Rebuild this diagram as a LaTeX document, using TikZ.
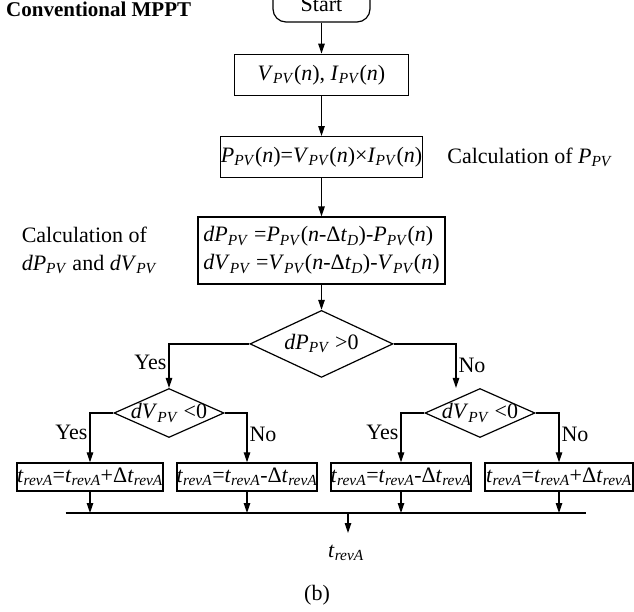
\documentclass[tikz,border=0pt]{standalone}
\usepackage{fontspec}
\setmainfont{Liberation Serif}
\usetikzlibrary{shapes.geometric,arrows.meta,positioning,calc}
\newcommand{\pvar}[2]{\textit{#1}\textsubscript{\textit{#2}}}

\begin{document}
\begin{tikzpicture}[
    x=1pt, y=1pt,
    font=\fontsize{22}{28}\selectfont,
    startBox/.style={
        rectangle, rounded corners=13pt, draw=black, line width=1.2pt,
        minimum width=97pt, minimum height=35pt, inner sep=0pt
    },
    procBox/.style={
        rectangle, draw=black, line width=1.4pt, minimum height=41pt, inner sep=0pt
    },
    decisionBox/.style={
        diamond, draw=black, line width=1.2pt, inner sep=0pt, aspect=2.2
    },
    resultBox/.style={
        rectangle, draw=black, line width=1.4pt, minimum height=28pt, inner sep=0pt
    },
    flow/.style={
        -{Triangle[length=10pt, width=6.5pt]}, line width=1.2pt, draw=black
    },
    branchTxt/.style={inner sep=2pt},
    noteTxt/.style={inner sep=0pt}
]
\useasboundingbox (0,0) rectangle (634,-611);
\clip (0,0) rectangle (634,-611);

% Title
\node[noteTxt, font=\fontsize{21}{28}\selectfont\bfseries, anchor=base west] (title) at (6,-16) {Conventional MPPT};

% Main column
\node[startBox] (start) at (321.5,-4.5) {Start};

\node[procBox, minimum width=174pt, below=31pt of start] (meas) {
    \pvar{V}{PV}(\textit{n}), \pvar{I}{PV}(\textit{n})
};

\node[procBox, minimum width=202pt, below=40pt of meas] (power) {
    \pvar{P}{PV}(\textit{n})=\pvar{V}{PV}(\textit{n})×\pvar{I}{PV}(\textit{n})
};

\node[procBox, minimum width=247pt, minimum height=67pt, below=38pt of power, align=left] (diff) {
    \pvar{dP}{PV} =\pvar{P}{PV}(\textit{n}-Δ\pvar{t}{D})-\pvar{P}{PV}(\textit{n})\\
    \pvar{dV}{PV} =\pvar{V}{PV}(\textit{n}-Δ\pvar{t}{D})-\pvar{V}{PV}(\textit{n})
};

\node[decisionBox, minimum width=143pt, minimum height=67pt, below=25pt of diff] (dpCheck) {
    \makebox[0pt]{\pvar{dP}{PV} >0}
};

% Side notes
\node[noteTxt, right=24pt of power] (powerNote) {Calculation of \pvar{P}{PV}};
\node[noteTxt, left=40pt of diff, align=left] (diffNote) {
    Calculation of\\
    \pvar{dP}{PV} and \pvar{dV}{PV}
};

% Second level checks
\node[decisionBox, minimum width=110pt, minimum height=49pt] (dvLeft) at (169,-413) {
    \makebox[0pt]{\pvar{dV}{PV} <0}
};
\node[decisionBox, minimum width=110pt, minimum height=49pt] (dvRight) at (480,-413) {
    \makebox[0pt]{\pvar{dV}{PV} <0}
};

% Results
\node[resultBox, minimum width=146pt] (incA) at (90,-477) {
    \makebox[0pt]{\pvar{t}{revA}=\pvar{t}{revA}+Δ\pvar{t}{revA}}
};
\node[resultBox, minimum width=140pt] (decA) at (247,-477) {
    \makebox[0pt]{\pvar{t}{revA}=\pvar{t}{revA}-Δ\pvar{t}{revA}}
};
\node[resultBox, minimum width=140pt] (decB) at (401,-477) {
    \makebox[0pt]{\pvar{t}{revA}=\pvar{t}{revA}-Δ\pvar{t}{revA}}
};
\node[resultBox, minimum width=148pt] (incB) at (559,-477) {
    \makebox[0pt]{\pvar{t}{revA}=\pvar{t}{revA}+Δ\pvar{t}{revA}}
};

% Output
\coordinate (busL) at (65.5,-513);
\coordinate (busR) at (585.5,-513);
\coordinate (busOut) at (348,-513);
\coordinate (outTip) at (348,-533);
\node[noteTxt, anchor=base] (tout) at (346,-557) {\pvar{t}{revA}};
\node (figTag) at (317,-595) {(b)};

% Flows
\draw[flow] (start) -- (meas);
\draw[flow] (meas) -- (power);
\draw[flow] (power) -- (diff);
\draw[flow] (diff) -- (dpCheck);

\coordinate (noTip) at ($(dvRight.north)+(-24,0)$);
\draw[flow] (dpCheck.west) -| node[branchTxt, pos=0.715, left] {Yes} (dvLeft.north);
\draw[flow] (dpCheck.east) -| node[branchTxt, pos=0.745, right] {No} (noTip);

\draw[flow] (dvLeft.west) -| node[branchTxt, pos=0.7, left] {Yes} (incA.north);
\draw[flow] (dvLeft.east) -| node[branchTxt, pos=0.72, right] {No} (decA.north);
\draw[flow] (dvRight.west) -| node[branchTxt, pos=0.7, left] {Yes} (decB.north);
\draw[flow] (dvRight.east) -| node[branchTxt, pos=0.72, right] {No} (incB.north);

\draw[line width=1.2pt] (busL) -- (busR);
\foreach \r in {incA,decA,decB,incB}
    \draw[flow] (\r.south) -- (\r.south |- busL);
\draw[flow] (busOut) -- (outTip);

\end{tikzpicture}
\end{document}
